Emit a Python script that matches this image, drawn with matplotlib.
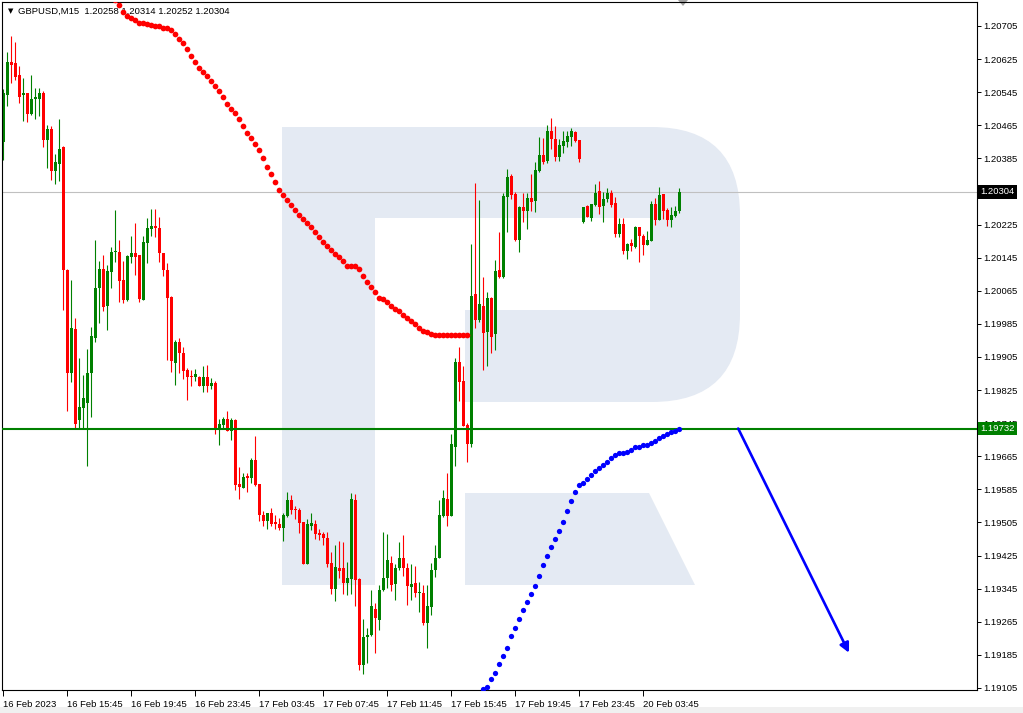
import matplotlib
matplotlib.use("Agg")
import matplotlib.pyplot as plt
import matplotlib.transforms as mtransforms
from matplotlib.patches import Rectangle, FancyBboxPatch, Polygon

plt.rcParams['font.family'] = ['Liberation Sans', 'DejaVu Sans']

# GBPUSD M15 candles, one entry per bar (bar 0 = 16 Feb 11:45)
opens = [
    1.20425, 1.20537, 1.20617, 1.20615, 1.20587, 1.20537, 1.20543, 1.20492, 1.20529, 1.20529,
    1.20543, 1.20429, 1.20456, 1.20355, 1.20372, 1.20413, 1.20115, 1.19866, 1.19972, 1.19753,
    1.19782, 1.19793, 1.19867, 1.19952, 1.20072, 1.20118, 1.20027, 1.20111, 1.20158, 1.20159,
    1.20091, 1.20043, 1.20147, 1.20156, 1.20152, 1.20043, 1.20181, 1.20214, 1.20222, 1.20217,
    1.20157, 1.20115, 1.20051, 1.19891, 1.19941, 1.19915, 1.19874, 1.19859, 1.19857, 1.19857,
    1.19836, 1.19856, 1.19836, 1.19842, 1.19729, 1.19741, 1.19755, 1.19727, 1.19753, 1.19598,
    1.19589, 1.19618, 1.19613, 1.19656, 1.19598, 1.19524, 1.19509, 1.19528, 1.19507, 1.19502,
    1.19492, 1.19521, 1.19559, 1.19535, 1.19535, 1.19506, 1.19405, 1.19497, 1.19501, 1.19480,
    1.19477, 1.19468, 1.19407, 1.19344, 1.19395, 1.19395, 1.19359, 1.19369, 1.19559, 1.19369,
    1.19161, 1.19228, 1.19233, 1.19296, 1.19269, 1.19342, 1.19370, 1.19406, 1.19356, 1.19396,
    1.19419, 1.19396, 1.19350, 1.19359, 1.19334, 1.19335, 1.19261, 1.19300, 1.19390, 1.19420,
    1.19521, 1.19562, 1.19521, 1.19688, 1.19893, 1.19847, 1.19740, 1.19695, 1.20057, 1.19994,
    1.20028, 1.19966, 1.20048, 1.19961, 1.20115, 1.20098, 1.20292, 1.20342, 1.20299, 1.20188,
    1.20268, 1.20258, 1.20289, 1.20282, 1.20355, 1.20393, 1.20379, 1.20451, 1.20432, 1.20389,
    1.20416, 1.20425, 1.20437, 1.20449, 1.20429, 1.20232, 1.20271, 1.20242, 1.20272, 1.20306,
    1.20271, 1.20287, 1.20301, 1.20277, 1.20202, 1.20226, 1.20160, 1.20181, 1.20172, 1.20219,
    1.20198, 1.20176, 1.20186, 1.20275, 1.20236, 1.20299, 1.20260, 1.20236, 1.20246, 1.20258,
]
highs = [
    1.20553, 1.20641, 1.20681, 1.20666, 1.20608, 1.20579, 1.20543, 1.20587, 1.20554, 1.20554,
    1.20549, 1.20465, 1.20463, 1.20395, 1.20480, 1.20415, 1.20117, 1.20091, 1.19999, 1.19902,
    1.19861, 1.19924, 1.19977, 1.20188, 1.20137, 1.20151, 1.20127, 1.20172, 1.20260, 1.20188,
    1.20137, 1.20152, 1.20197, 1.20230, 1.20152, 1.20197, 1.20241, 1.20263, 1.20263, 1.20244,
    1.20157, 1.20133, 1.20052, 1.19946, 1.19951, 1.19930, 1.19878, 1.19873, 1.19876, 1.19859,
    1.19883, 1.19886, 1.19854, 1.19847, 1.19755, 1.19760, 1.19775, 1.19758, 1.19755, 1.19640,
    1.19625, 1.19625, 1.19661, 1.19714, 1.19598, 1.19533, 1.19528, 1.19540, 1.19523, 1.19516,
    1.19529, 1.19578, 1.19571, 1.19545, 1.19540, 1.19506, 1.19513, 1.19528, 1.19511, 1.19489,
    1.19482, 1.19482, 1.19434, 1.19451, 1.19460, 1.19458, 1.19409, 1.19576, 1.19574, 1.19371,
    1.19272, 1.19250, 1.19342, 1.19310, 1.19354, 1.19482, 1.19477, 1.19424, 1.19404, 1.19458,
    1.19474, 1.19406, 1.19405, 1.19400, 1.19361, 1.19354, 1.19354, 1.19408, 1.19451, 1.19559,
    1.19584, 1.19625, 1.19718, 1.19903, 1.19929, 1.19883, 1.19745, 1.20178, 1.20326, 1.20285,
    1.20098, 1.20062, 1.20051, 1.20139, 1.20207, 1.20301, 1.20359, 1.20347, 1.20304, 1.20270,
    1.20301, 1.20301, 1.20347, 1.20376, 1.20437, 1.20434, 1.20466, 1.20483, 1.20463, 1.20432,
    1.20451, 1.20451, 1.20458, 1.20451, 1.20429, 1.20268, 1.20272, 1.20275, 1.20323, 1.20330,
    1.20304, 1.20313, 1.20309, 1.20291, 1.20242, 1.20242, 1.20181, 1.20190, 1.20222, 1.20219,
    1.20202, 1.20209, 1.20282, 1.20289, 1.20316, 1.20299, 1.20265, 1.20268, 1.20270, 1.20314,
]
lows = [
    1.20381, 1.20512, 1.20567, 1.20575, 1.20518, 1.20476, 1.20472, 1.20490, 1.20480, 1.20488,
    1.20413, 1.20362, 1.20333, 1.20323, 1.20330, 1.20019, 1.19775, 1.19845, 1.19733, 1.19733,
    1.19733, 1.19642, 1.19761, 1.19940, 1.19988, 1.20015, 1.19970, 1.20072, 1.20135, 1.20039,
    1.20036, 1.20041, 1.20133, 1.20103, 1.20039, 1.20043, 1.20133, 1.20197, 1.20194, 1.20135,
    1.20101, 1.19898, 1.19869, 1.19837, 1.19867, 1.19852, 1.19801, 1.19835, 1.19847, 1.19835,
    1.19821, 1.19821, 1.19828, 1.19719, 1.19692, 1.19733, 1.19726, 1.19704, 1.19584, 1.19562,
    1.19588, 1.19579, 1.19601, 1.19592, 1.19509, 1.19497, 1.19489, 1.19497, 1.19490, 1.19487,
    1.19459, 1.19519, 1.19526, 1.19513, 1.19480, 1.19405, 1.19405, 1.19487, 1.19465, 1.19463,
    1.19451, 1.19398, 1.19332, 1.19316, 1.19371, 1.19332, 1.19330, 1.19332, 1.19303, 1.19149,
    1.19139, 1.19166, 1.19231, 1.19190, 1.19245, 1.19339, 1.19346, 1.19339, 1.19318, 1.19390,
    1.19376, 1.19306, 1.19318, 1.19326, 1.19289, 1.19257, 1.19201, 1.19281, 1.19374, 1.19418,
    1.19519, 1.19497, 1.19521, 1.19642, 1.19799, 1.19737, 1.19652, 1.19688, 1.19974, 1.19990,
    1.19874, 1.19883, 1.19914, 1.19922, 1.20096, 1.20096, 1.20207, 1.20287, 1.20185, 1.20159,
    1.20231, 1.20214, 1.20258, 1.20255, 1.20352, 1.20372, 1.20374, 1.20408, 1.20379, 1.20379,
    1.20398, 1.20413, 1.20415, 1.20424, 1.20377, 1.20230, 1.20243, 1.20234, 1.20270, 1.20251,
    1.20232, 1.20279, 1.20268, 1.20196, 1.20196, 1.20154, 1.20143, 1.20162, 1.20169, 1.20135,
    1.20152, 1.20176, 1.20186, 1.20224, 1.20236, 1.20238, 1.20222, 1.20219, 1.20243, 1.20252,
]
closes = [
    1.20542, 1.20617, 1.20611, 1.20582, 1.20534, 1.20543, 1.20492, 1.20529, 1.20533, 1.20543,
    1.20429, 1.20456, 1.20355, 1.20376, 1.20408, 1.20114, 1.19866, 1.19974, 1.19743, 1.19785,
    1.19807, 1.19866, 1.19956, 1.20072, 1.20118, 1.20025, 1.20113, 1.20158, 1.20162, 1.20089,
    1.20043, 1.20149, 1.20156, 1.20147, 1.20045, 1.20183, 1.20216, 1.20222, 1.20216, 1.20157,
    1.20115, 1.20048, 1.19895, 1.19941, 1.19914, 1.19871, 1.19857, 1.19857, 1.19864, 1.19836,
    1.19857, 1.19836, 1.19842, 1.19729, 1.19743, 1.19755, 1.19726, 1.19753, 1.19596, 1.19591,
    1.19616, 1.19613, 1.19656, 1.19596, 1.19524, 1.19509, 1.19528, 1.19502, 1.19502, 1.19492,
    1.19524, 1.19559, 1.19536, 1.19534, 1.19504, 1.19405, 1.19501, 1.19504, 1.19476, 1.19475,
    1.19468, 1.19405, 1.19344, 1.19397, 1.19388, 1.19359, 1.19371, 1.19562, 1.19367, 1.19161,
    1.19228, 1.19233, 1.19303, 1.19273, 1.19342, 1.19371, 1.19414, 1.19354, 1.19396, 1.19419,
    1.19394, 1.19352, 1.19356, 1.19334, 1.19338, 1.19261, 1.19302, 1.19390, 1.19418, 1.19522,
    1.19564, 1.19521, 1.19695, 1.19893, 1.19845, 1.19738, 1.19695, 1.20052, 1.19994, 1.20032,
    1.19964, 1.20047, 1.19953, 1.20113, 1.20098, 1.20294, 1.20339, 1.20297, 1.20188, 1.20268,
    1.20258, 1.20289, 1.20280, 1.20357, 1.20393, 1.20376, 1.20451, 1.20432, 1.20389, 1.20417,
    1.20427, 1.20439, 1.20451, 1.20427, 1.20384, 1.20267, 1.20244, 1.20275, 1.20301, 1.20268,
    1.20287, 1.20301, 1.20273, 1.20202, 1.20226, 1.20160, 1.20177, 1.20173, 1.20219, 1.20197,
    1.20176, 1.20188, 1.20275, 1.20236, 1.20297, 1.20258, 1.20236, 1.20248, 1.20258, 1.20304,
]

# dotted indicators (red one starts at bar 28, blue one at bar 120)
red_start = 28
red_dots = [
    1.20769, 1.20756, 1.20740, 1.20730, 1.20724, 1.20720, 1.20713, 1.20712, 1.20709, 1.20707,
    1.20705, 1.20705, 1.20701, 1.20699, 1.20695, 1.20686, 1.20674, 1.20663, 1.20649, 1.20633,
    1.20619, 1.20604, 1.20595, 1.20584, 1.20572, 1.20560, 1.20548, 1.20534, 1.20517, 1.20504,
    1.20495, 1.20481, 1.20463, 1.20447, 1.20434, 1.20420, 1.20405, 1.20387, 1.20365, 1.20347,
    1.20327, 1.20309, 1.20297, 1.20285, 1.20272, 1.20260, 1.20249, 1.20238, 1.20228, 1.20218,
    1.20206, 1.20196, 1.20183, 1.20173, 1.20164, 1.20154, 1.20146, 1.20137, 1.20125, 1.20125,
    1.20125, 1.20118, 1.20101, 1.20087, 1.20075, 1.20063, 1.20048, 1.20044, 1.20038, 1.20028,
    1.20022, 1.20015, 1.20007, 1.20000, 1.19993, 1.19985, 1.19976, 1.19968, 1.19965, 1.19961,
    1.19958, 1.19958, 1.19958, 1.19958, 1.19958, 1.19958, 1.19958, 1.19958, 1.19958,
]
blue_start = 120
blue_dots = [
    1.19103, 1.19108, 1.19126, 1.19142, 1.19163, 1.19181, 1.19202, 1.19231, 1.19250, 1.19272,
    1.19294, 1.19313, 1.19332, 1.19352, 1.19376, 1.19402, 1.19424, 1.19446, 1.19465, 1.19485,
    1.19506, 1.19533, 1.19557, 1.19579, 1.19595, 1.19601, 1.19610, 1.19620, 1.19630, 1.19636,
    1.19644, 1.19652, 1.19660, 1.19668, 1.19672, 1.19672, 1.19676, 1.19680, 1.19687, 1.19688,
    1.19691, 1.19693, 1.19696, 1.19703, 1.19709, 1.19714, 1.19719, 1.19723, 1.19727, 1.19732,
]

support_level = 1.19732
bid_level = 1.20304

# forecast arrow (bar index, price)
arrow_from = (183.7, 1.19732)
arrow_to = (211.4, 1.19190)

price_ticks = [
    1.20705, 1.20625, 1.20545, 1.20465, 1.20385, 1.20305, 1.20225, 1.20145, 1.20065, 1.19985,
    1.19905, 1.19825, 1.19745, 1.19665, 1.19585, 1.19505, 1.19425, 1.19345, 1.19265, 1.19185,
    1.19105,
]
price_labels = [
    "1.20705", "1.20625", "1.20545", "1.20465", "1.20385", "", "1.20225", "1.20145", "1.20065",
    "1.19985", "1.19905", "1.19825", "1.19745", "1.19665", "1.19585", "1.19505", "1.19425",
    "1.19345", "1.19265", "1.19185", "1.19105",
]
time_ticks = [0, 16, 32, 48, 64, 80, 96, 112, 128, 144, 160]
time_labels = [
    "16 Feb 2023", "16 Feb 15:45", "16 Feb 19:45", "16 Feb 23:45", "17 Feb 03:45",
    "17 Feb 07:45", "17 Feb 11:45", "17 Feb 15:45", "17 Feb 19:45", "17 Feb 23:45",
    "20 Feb 03:45",
]

bull = '#008000'
bear = '#ff0000'
wm = '#e4eaf3'
fs = 6.8

fig = plt.figure(figsize=(10.23, 7.13), dpi=100)
fig.patch.set_facecolor('white')

# background layer in pixel coordinates: watermark logo and bottom strip
bg = fig.add_axes([0, 0, 1, 1], zorder=0)
bg.set_xlim(0, 1023)
bg.set_ylim(713, 0)
bg.axis('off')
bg.add_patch(FancyBboxPatch((282, 127), 458, 275, boxstyle='round,pad=0,rounding_size=88',
                            fc=wm, ec='none'))
bg.add_patch(Rectangle((375, 218), 275, 92, fc='white', ec='none'))
bg.add_patch(Rectangle((375, 310), 90, 92, fc='white', ec='none'))
bg.add_patch(Rectangle((282, 127), 93, 458, fc=wm, ec='none'))
bg.add_patch(Polygon([(465, 493), (649, 493), (695, 585), (465, 585)], fc=wm, ec='none'))
bg.add_patch(Rectangle((0, 707), 1023, 6, fc='#f0f0f0', ec='none'))
bg.add_patch(Polygon([(678, 0), (688, 0), (683, 6)], fc='#a0a0a0', ec='none'))

ax = fig.add_axes([2 / 1023, 23 / 713, 975 / 1023, 688 / 713], zorder=1)
ax.patch.set_visible(False)

# candles
n = len(opens)
xs = list(range(n))
colors = [bull if c >= o else bear for o, c in zip(opens, closes)]
ax.vlines(xs, lows, highs, colors=colors, linewidth=0.8, zorder=2)
bottoms = [min(o, c) for o, c in zip(opens, closes)]
heights = [max(abs(c - o), 0.00003) for o, c in zip(opens, closes)]
ax.bar(xs, heights, bottom=bottoms, width=0.75, color=colors, linewidth=0, zorder=2)

# horizontal levels
ax.axhline(bid_level, color='#c0c0c0', linewidth=0.8, zorder=1)
ax.axhline(support_level, color=bull, linewidth=1.5, zorder=3)

# dotted indicators
ax.plot(range(red_start, red_start + len(red_dots)), red_dots, 'o', color=bear,
        markersize=4.1, markeredgewidth=0, zorder=5)
ax.plot(range(blue_start, blue_start + len(blue_dots)), blue_dots, 'o', color='#0000ff',
        markersize=3.8, markeredgewidth=0, zorder=5)

# forecast arrow
ax.annotate('', xy=arrow_to, xytext=arrow_from,
            arrowprops=dict(arrowstyle='-|>', color='#0000ff', lw=1.9,
                            mutation_scale=14, shrinkA=0, shrinkB=0), zorder=6)

ax.set_xlim(-0.33, 243.4)
ax.set_ylim(1.19100, 1.20763)

# axes styling like a trading terminal
for sp in ax.spines.values():
    sp.set_color('black')
    sp.set_linewidth(0.8)
ax.yaxis.tick_right()
ax.set_yticks(price_ticks)
ax.set_yticklabels(price_labels)
ax.set_xticks(time_ticks)
ax.set_xticklabels(time_labels)
for lab in ax.get_xticklabels():
    lab.set_ha('left')
ax.tick_params(axis='y', direction='out', length=3, width=0.7, pad=1.5, labelsize=fs)
ax.tick_params(axis='x', direction='out', length=4, width=0.7, pad=3, labelsize=fs)

# price tags on the right scale
trans = mtransforms.blended_transform_factory(ax.transAxes, ax.transData)
ax.text(1.003, support_level, f"{support_level:.5f}", transform=trans, ha='left', va='center',
        color='white', fontsize=fs, clip_on=False, zorder=10,
        bbox=dict(boxstyle='square,pad=0.25', fc=bull, ec='none'))
ax.text(1.003, bid_level, f"{bid_level:.5f}", transform=trans, ha='left', va='center',
        color='white', fontsize=fs, clip_on=False, zorder=10,
        bbox=dict(boxstyle='square,pad=0.25', fc='black', ec='none'))

# header
header = "{}  {:.5f} {:.5f} {:.5f} {:.5f}".format("GBPUSD,M15", opens[-1], highs[-1], lows[-1], closes[-1])
ax.text(6 / 975, 1 - 9 / 688, "\u25bc", transform=ax.transAxes, fontsize=5, va='center',
        ha='left', family=['DejaVu Sans'], zorder=4)
ax.text(16 / 975, 1 - 9 / 688, header, transform=ax.transAxes, fontsize=fs, va='center',
        ha='left', zorder=4)

fig.savefig('out.png', dpi=100)
